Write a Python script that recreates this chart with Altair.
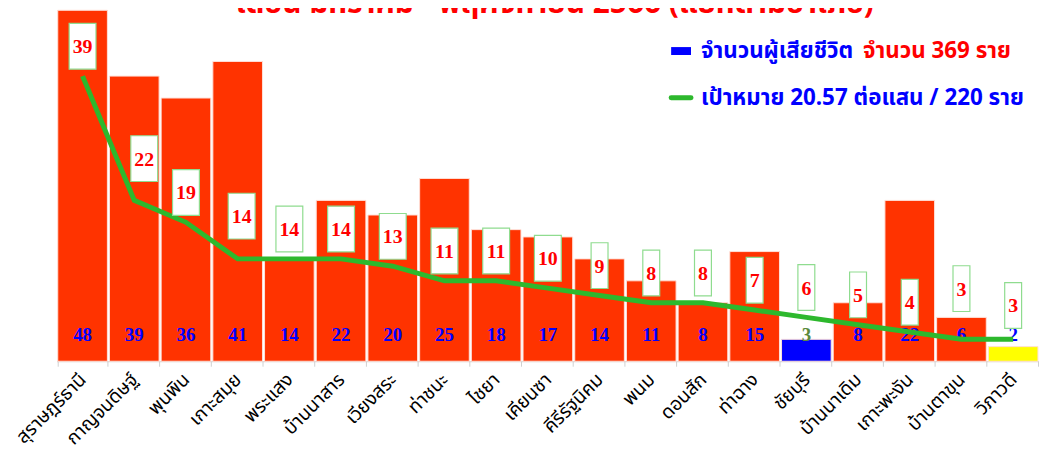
import altair as alt
import pandas as pd

districts = ["สุราษฎร์ธานี", "กาญจนดิษฐ์", "พุนพิน", "เกาะสมุย", "พระแสง", "บ้านนาสาร",
             "เวียงสระ", "ท่าชนะ", "ไชยา", "เคียนซา", "คีรีรัฐนิคม", "พนม", "ดอนสัก",
             "ท่าฉาง", "ชัยบุรี", "บ้านนาเดิม", "เกาะพะงัน", "บ้านตาขุน", "วิภาวดี"]
deaths = [48, 39, 36, 41, 14, 22, 20, 25, 18, 17, 14, 11, 8, 15, 3, 8, 22, 6, 2]
targets = [39, 22, 19, 14, 14, 14, 13, 11, 11, 10, 9, 8, 8, 7, 6, 5, 4, 3, 3]
bar_colors = ["#FF3300"] * 14 + ["#0000FF"] + ["#FF3300"] * 3 + ["#FFFF00"]
death_label_colors = ["#0000FF"] * 14 + ["#5B8A3C"] + ["#0000FF"] * 4
# manual label-box placement (pixel offsets from the target point)
label_dx = [0, 10, 0, 4, 0, 0, 0, 0, 0, 0, 0, 0, 0, 0, 0, 0, 0, 0, 0]
label_dy = [-30, -42, -30, -43, -30, -30, -30, -30, -30, -30, -30, -30, -30, -30, -30, -30, -30, -51, -34]

df = pd.DataFrame({
    "district": districts, "deaths": deaths, "target": targets,
    "bar_color": bar_colors, "lab_color": death_label_colors,
    "dx": label_dx, "dy": label_dy,
})

THAI = "Tahoma, 'Noto Sans Thai', Loma, Garuda, 'DejaVu Sans', sans-serif"
SERIF = "'Times New Roman', 'Liberation Serif', serif"

xenc = alt.X("district:N", sort=districts, title=None,
             scale=alt.Scale(paddingInner=0.04, paddingOuter=0.02),
             axis=alt.Axis(labelAngle=-45, labelAlign="right", labelBaseline="middle",
                           labelFont=THAI, labelFontSize=19, labelColor="#000000",
                           labelPadding=10, tickSize=5, tickColor="#D0D0D0",
                           domainColor="#D0D0D0", tickBand="extent", labelOverlap=False))
xs = alt.X("district:N", sort=districts)
yscale = alt.Scale(domain=[0, 48], nice=False, zero=True)

base = alt.Chart(df)

bars = base.mark_bar(stroke="#FFE0D8", strokeWidth=1).encode(
    x=xenc,
    y=alt.Y("deaths:Q", scale=yscale, axis=None),
    color=alt.Color("bar_color:N", scale=None),
)

death_text = base.mark_text(dy=-26, baseline="middle", font=SERIF, fontSize=19,
                            fontWeight="bold").encode(
    x=xs, y=alt.datum(0), text="deaths:Q",
    color=alt.Color("lab_color:N", scale=None),
)

line = base.mark_line(color="#2DB82D", strokeWidth=5).encode(
    x=xs, y=alt.Y("target:Q", scale=yscale),
)

# white label boxes: custom symbol path (unit = 23 px since size = 46^2)
boxes = base.transform_calculate(
    hw="datum.target >= 10 ? 13.5 : 8.5"
).transform_calculate(
    shp="'M' + ((datum.dx - datum.hw) / 23) + ',' + ((datum.dy - 23) / 23) + "
        "'H' + ((datum.dx + datum.hw) / 23) + 'V' + ((datum.dy + 23) / 23) + "
        "'H' + ((datum.dx - datum.hw) / 23) + 'Z'"
).mark_point(filled=True, fill="#FFFFFF", stroke="#8FDC8F", strokeWidth=1.2,
             size=2116, opacity=1).encode(
    x=xs, y=alt.Y("target:Q", scale=yscale),
    shape=alt.Shape("shp:N", scale=None),
)

text_layers = []
for ddx, ddy in sorted(set(zip(label_dx, label_dy))):
    text_layers.append(
        base.transform_filter(f"datum.dx == {ddx} && datum.dy == {ddy}").mark_text(
            baseline="middle", font=SERIF, fontSize=20, fontWeight="bold",
            color="#FF0000", dx=ddx, dy=ddy + 1).encode(
            x=xs, y=alt.Y("target:Q", scale=yscale), text="target:Q")
    )

# title (cut off at the top) and legend
title = alt.Chart(pd.DataFrame({"t": ["เดือน มกราคม - พฤศจิกายน 2566 (แยกตามอำเภอ)"]})).mark_text(
    font=THAI, fontSize=30, fontWeight="bold", color="#FF0000", align="center",
    baseline="alphabetic").encode(text="t:N", x=alt.value(501), y=alt.value(3))

leg_rect = alt.Chart(pd.DataFrame({"a": [1]})).mark_rect(color="#0000FF").encode(
    x=alt.value(618), x2=alt.value(638), y=alt.value(37), y2=alt.value(45))
leg_line = alt.Chart(pd.DataFrame({"a": [1]})).mark_rule(color="#2DB82D", strokeWidth=5,
                                                         strokeCap="round").encode(
    x=alt.value(618), x2=alt.value(638), y=alt.value(88))
leg_t1 = alt.Chart(pd.DataFrame({"t": ["จำนวนผู้เสียชีวิต"]})).mark_text(
    font=THAI, fontSize=22.5, fontWeight="bold", color="#0000FF", align="left",
    baseline="middle").encode(text="t:N", x=alt.value(648), y=alt.value(41))
leg_t2 = alt.Chart(pd.DataFrame({"t": ["จำนวน 369 ราย"]})).mark_text(
    font=THAI, fontSize=22.5, fontWeight="bold", color="#FF0000", align="left",
    baseline="middle").encode(text="t:N", x=alt.value(811), y=alt.value(41))
leg_t3 = alt.Chart(pd.DataFrame({"t": ["เป้าหมาย 20.57 ต่อแสน / 220 ราย"]})).mark_text(
    font=THAI, fontSize=22.5, fontWeight="bold", color="#0000FF", align="left",
    baseline="middle").encode(text="t:N", x=alt.value(648), y=alt.value(88))

chart = alt.layer(bars, death_text, line, boxes, *text_layers,
                  title, leg_rect, leg_line, leg_t1, leg_t2, leg_t3).properties(
    width=988, height=353,
    autosize=alt.AutoSizeParams(type="none"),
    padding={"left": 49, "top": 1, "right": 0, "bottom": 94},
).configure_view(stroke=None)

chart.save("out.html", embed_options={"renderer": "svg", "actions": False})
